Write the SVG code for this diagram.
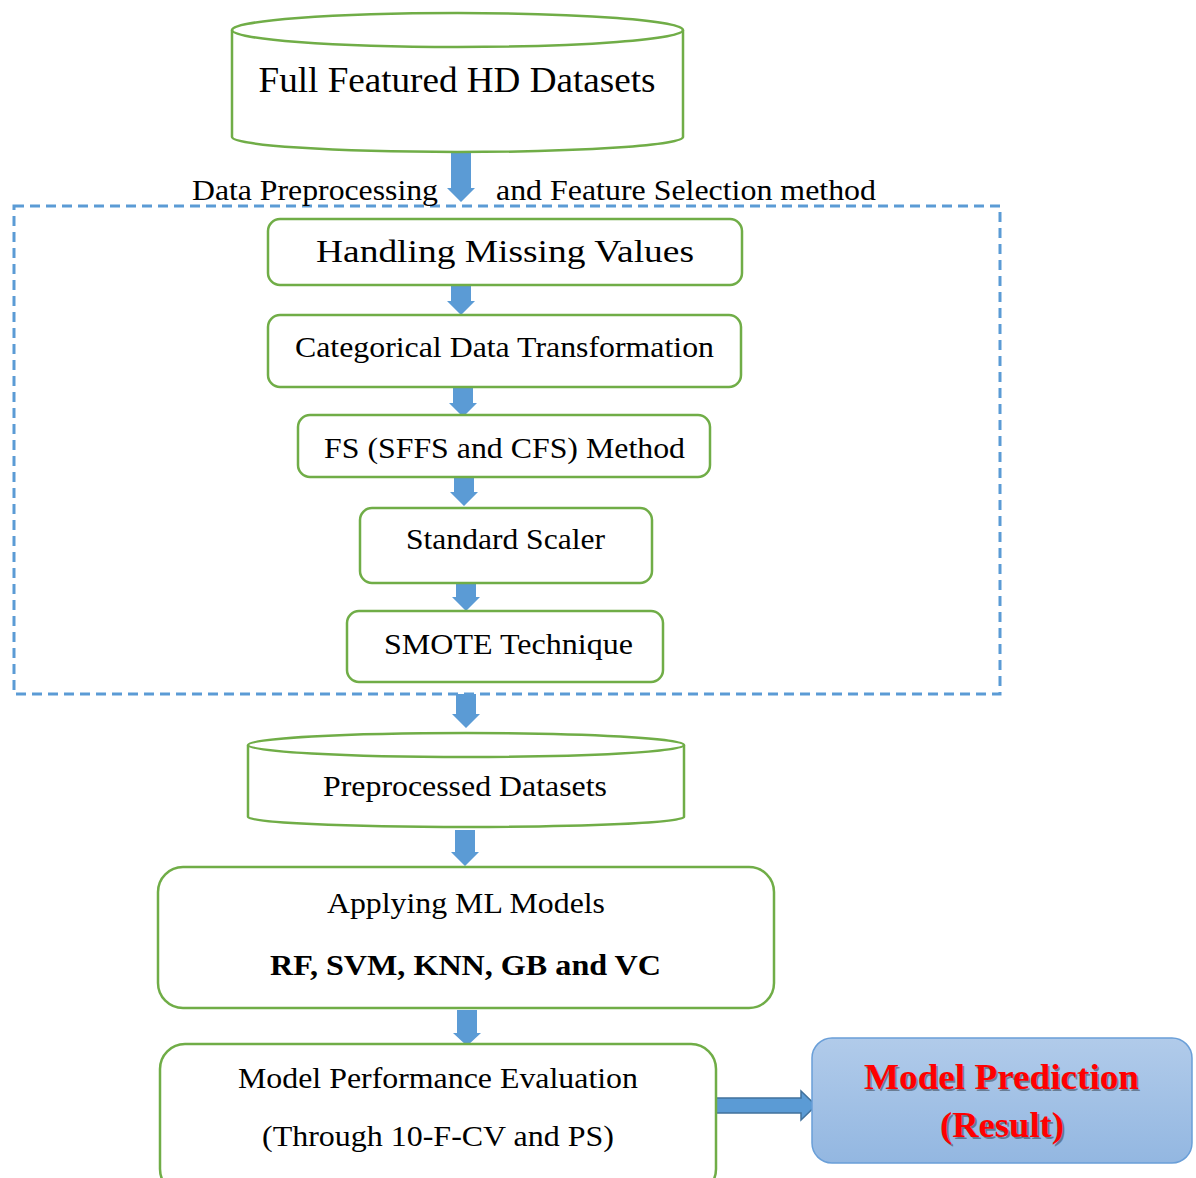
<svg xmlns="http://www.w3.org/2000/svg" width="1196" height="1178" viewBox="0 0 1196 1178">
<defs>
<linearGradient id="pg" x1="0" y1="0" x2="0" y2="1">
<stop offset="0" stop-color="#B1CBEA"/>
<stop offset="1" stop-color="#93B7E1"/>
</linearGradient>
<style>
.box{fill:#fff;stroke:#70AD47;stroke-width:2.5}
.t{font-family:"Liberation Serif","Times New Roman",serif;fill:#000;text-anchor:middle}
.arr{fill:#5B9BD5}
.dash{fill:none;stroke:#5B9BD5;stroke-width:3;stroke-dasharray:10 6}
</style>
</defs>
<rect width="1196" height="1178" fill="#fff"/>

<g id="preprocess-group">
<rect class="dash" x="14" y="206" width="986" height="488"/>
</g>

<g id="connectors">
<path class="arr" d="M451,153 H471 V188 H475 L461,202 L447,188 H451 Z"/>
<path class="arr" d="M451,277 H471 V301 H475 L461,315 L447,301 H451 Z"/>
<path class="arr" d="M453,384 H473 V403 H477 L463,417 L449,403 H453 Z"/>
<path class="arr" d="M454,475 H474 V492 H478 L464,506 L450,492 H454 Z"/>
<path class="arr" d="M456,582 H476 V597 H480 L466,611 L452,597 H456 Z"/>
<path class="arr" d="M456,694 H476 V714 H480 L466,728 L452,714 H456 Z"/>
<path class="arr" d="M455,830 H475 V852 H479 L465,866 L451,852 H455 Z"/>
<path class="arr" d="M457,1010 H477 V1033 H481 L467,1046 L453,1033 H457 Z"/>
<path d="M716,1098 H801 V1091 L816,1105.5 L801,1120 V1113 H716 Z" fill="#5B9BD5" stroke="#41719C" stroke-width="1.5"/>
</g>

<g id="label-preprocessing">
<text class="t" x="315" y="200" font-size="29" textLength="246" lengthAdjust="spacingAndGlyphs">Data Preprocessing</text>
<text class="t" x="686" y="200" font-size="29" textLength="380" lengthAdjust="spacingAndGlyphs">and Feature Selection method</text>
</g>

<g id="full-datasets">
<path class="box" d="M232,30 V137 A225.5,15 0 0 0 683,137 V30"/>
<ellipse class="box" cx="457.5" cy="30" rx="225.5" ry="17"/>
<text class="t" x="457" y="92" font-size="36" textLength="397" lengthAdjust="spacingAndGlyphs">Full Featured HD Datasets</text>
</g>

<g id="handling-missing">
<rect class="box" x="268" y="219" width="474" height="66" rx="12"/>
<text class="t" x="505" y="262" font-size="31" textLength="378" lengthAdjust="spacingAndGlyphs">Handling Missing Values</text>
</g>

<g id="categorical">
<rect class="box" x="268" y="315" width="473" height="72" rx="12"/>
<text class="t" x="504.5" y="357" font-size="29" textLength="419" lengthAdjust="spacingAndGlyphs">Categorical Data Transformation</text>
</g>

<g id="fs-method">
<rect class="box" x="298" y="415" width="412" height="62" rx="12"/>
<text class="t" x="504.5" y="458" font-size="29" textLength="361" lengthAdjust="spacingAndGlyphs">FS (SFFS and CFS) Method</text>
</g>

<g id="standard-scaler">
<rect class="box" x="360" y="508" width="292" height="75" rx="12"/>
<text class="t" x="505.5" y="549" font-size="29" textLength="199" lengthAdjust="spacingAndGlyphs">Standard Scaler</text>
</g>

<g id="smote">
<rect class="box" x="347" y="611" width="316" height="71" rx="12"/>
<text class="t" x="508.5" y="654" font-size="29" textLength="249" lengthAdjust="spacingAndGlyphs">SMOTE Technique</text>
</g>

<g id="preprocessed-datasets">
<path class="box" d="M248,745 V817 A218,10 0 0 0 684,817 V745"/>
<ellipse class="box" cx="466" cy="745" rx="218" ry="12"/>
<text class="t" x="465" y="796" font-size="29" textLength="284" lengthAdjust="spacingAndGlyphs">Preprocessed Datasets</text>
</g>

<g id="ml-models">
<rect class="box" x="158" y="867" width="616" height="141" rx="25"/>
<text class="t" x="466" y="913" font-size="29" textLength="278" lengthAdjust="spacingAndGlyphs">Applying ML Models</text>
<text class="t" x="465.5" y="975" font-size="29" font-weight="bold" textLength="391" lengthAdjust="spacingAndGlyphs">RF, SVM, KNN, GB and VC</text>
</g>

<g id="evaluation">
<rect class="box" x="160" y="1044" width="556" height="150" rx="25"/>
<text class="t" x="438" y="1088" font-size="29" textLength="400" lengthAdjust="spacingAndGlyphs">Model Performance Evaluation</text>
<text class="t" x="438" y="1146" font-size="29" textLength="352" lengthAdjust="spacingAndGlyphs">(Through 10-F-CV and PS)</text>
</g>

<g id="prediction">
<rect x="812" y="1038" width="380" height="125" rx="20" fill="url(#pg)" stroke="#6A9FD8" stroke-width="1.5"/>
<text class="t" x="1003" y="1091" font-size="36" font-weight="bold" fill="#A0A0A0" opacity="0.35" textLength="275" lengthAdjust="spacingAndGlyphs">Model Prediction</text>
<text class="t" x="1004" y="1139" font-size="36" font-weight="bold" fill="#A0A0A0" opacity="0.35" textLength="124" lengthAdjust="spacingAndGlyphs">(Result)</text>
<text class="t" x="1001.5" y="1089" font-size="36" font-weight="bold" style="fill:#FF0000" textLength="275" lengthAdjust="spacingAndGlyphs">Model Prediction</text>
<text class="t" x="1002" y="1137" font-size="36" font-weight="bold" style="fill:#FF0000" textLength="124" lengthAdjust="spacingAndGlyphs">(Result)</text>
</g>
</svg>
